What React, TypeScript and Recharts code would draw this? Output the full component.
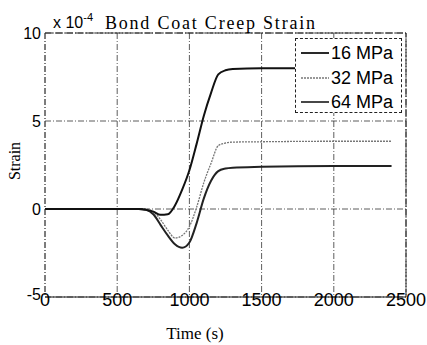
// Bond coat creep strain vs. time, three stress levels.
// Values are in units of 1e-4 (the axis carries the "x 10^-4" multiplier).

import { LineChart, Line, XAxis, YAxis, CartesianGrid, ReferenceLine } from 'recharts'

// ── Data ─────────────────────────────────────────────────────────────────────
const times = [0, 500, 650, 700, 750, 800, 850, 900, 950, 1000, 1050, 1100, 1150, 1200, 1250, 1300, 1500, 2000, 2400]

const mpa16 = [0, 0, 0, -0.05, -0.15, -0.33, -0.3, 0.2, 1.1, 2.2, 3.7, 5.3, 6.6, 7.65, 7.88, 7.95, 8.0, 8.0, 8.0]
const mpa32 = [0, 0, 0, 0, -0.15, -0.6, -1.2, -1.65, -1.5, -1.0, 0.1, 1.5, 2.6, 3.6, 3.75, 3.8, 3.82, 3.85, 3.85]
const mpa64 = [0, 0, 0, -0.05, -0.3, -0.9, -1.5, -2.0, -2.2, -1.9, -0.8, 0.6, 1.6, 2.15, 2.3, 2.35, 2.4, 2.45, 2.45]

const xTicks = [0, 500, 1000, 1500, 2000, 2500]
const yTicks = [-5, 0, 5, 10]

const legendItems = [
  { label: '16 MPa', color: '#111', dash: undefined as string | undefined, width: 1.8 },
  { label: '32 MPa', color: '#777', dash: '2 1', width: 1.3 },
  { label: '64 MPa', color: '#333', dash: undefined, width: 1.8 },
]

const rows = times.map((t, i) => ({ t, a: mpa16[i], b: mpa32[i], c: mpa64[i] }))

const SANS = '"Liberation Sans", Arial, sans-serif'
const SERIF = '"Liberation Serif", "Times New Roman", serif'
const GRID_DASH = '6 2 1 2'

// x tick labels sit slightly over the axis line, like the scanned original
function XTick({ x, y, payload }: any) {
  return (
    <text x={x} y={y + 9} textAnchor="middle" fontSize={18} fontFamily={SANS} fill="#000">
      {payload.value}
    </text>
  )
}

// y tick labels; the bottom one is nudged up so it clears the x "0"
function YTick({ x, y, payload }: any) {
  const lift = payload.value === -5 ? -3 : 0
  return (
    <text x={x} y={y + lift} dy="0.36em" textAnchor="end" fontSize={16} fontFamily={SANS} fill="#000">
      {payload.value}
    </text>
  )
}

export default function App() {
  return (
    <div style={{ position: 'absolute', left: 0, top: 0, width: 427, height: 345, background: '#fff' }}>
      <LineChart
        width={427}
        height={345}
        data={rows}
        margin={{ top: 33, right: 21, bottom: 18, left: 0 }}
      >
        <CartesianGrid stroke="#333" strokeWidth={0.8} strokeDasharray={GRID_DASH} />

        <XAxis
          dataKey="t"
          type="number"
          domain={[0, 2500]}
          ticks={xTicks}
          tickSize={0}
          tickMargin={0}
          height={30}
          axisLine={{ stroke: '#111', strokeWidth: 1 }}
          tick={<XTick />}
        />
        <YAxis
          type="number"
          domain={[-5, 10]}
          ticks={yTicks}
          tickSize={0}
          tickMargin={4}
          width={45}
          axisLine={{ stroke: '#333', strokeWidth: 0.8, strokeDasharray: GRID_DASH }}
          tick={<YTick />}
        />

        {/* top and right edges of the box */}
        <ReferenceLine y={10} stroke="#222" strokeWidth={1} strokeDasharray="8 2" />
        <ReferenceLine x={2500} stroke="#222" strokeWidth={1} strokeDasharray="8 2" />

        <Line type="monotone" dataKey="b" stroke="#777" strokeWidth={1.3} strokeDasharray="2 1" dot={false} isAnimationActive={false} />
        <Line type="monotone" dataKey="c" stroke="#222" strokeWidth={2} dot={false} isAnimationActive={false} />
        <Line type="monotone" dataKey="a" stroke="#111" strokeWidth={2} dot={false} isAnimationActive={false} />
      </LineChart>

      {/* titles and axis labels */}
      <svg width={427} height={345} style={{ position: 'absolute', left: 0, top: 0, pointerEvents: 'none' }}>
        <text x={53} y={28} fontSize={16} fontFamily={SANS} fill="#000">
          x 10<tspan dy={-7} fontSize={11}>-4</tspan>
        </text>
        <text x={105} y={29} fontSize={18} fontFamily={SERIF} fill="#000" textLength={210}>
          Bond Coat Creep Strain
        </text>
        <text x={20} y={161} fontSize={16} fontFamily={SERIF} fill="#000" textAnchor="middle" transform="rotate(-90 20 161)">
          Strain
        </text>
        <text x={195} y={339} fontSize={17} fontFamily={SERIF} fill="#000" textAnchor="middle">
          Time (s)
        </text>
      </svg>

      {/* legend box */}
      <div
        style={{
          position: 'absolute',
          left: 295,
          top: 38,
          width: 107,
          height: 75,
          border: '1px dashed #222',
          background: '#fff',
          boxSizing: 'border-box',
        }}
      >
        {legendItems.map((item, i) => (
          <div
            key={item.label}
            style={{ position: 'absolute', left: 4, top: 2 + i * 24.5, height: 24, display: 'flex', alignItems: 'center' }}
          >
            <svg width={30} height={10}>
              <line x1={1} y1={5} x2={29} y2={5} stroke={item.color} strokeWidth={item.width} strokeDasharray={item.dash} />
            </svg>
            <span style={{ fontFamily: SANS, fontSize: 18, marginLeft: 1, color: '#000', lineHeight: '24px' }}>
              {item.label}
            </span>
          </div>
        ))}
      </div>
    </div>
  )
}
